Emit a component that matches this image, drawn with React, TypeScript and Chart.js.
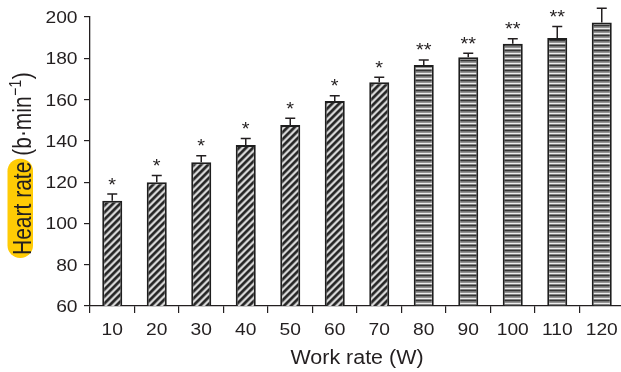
import React, { useEffect, useRef } from 'react';
import { Chart, registerables } from 'chart.js';

Chart.register(...registerables);

// ---- data ----
const workRates = ['10', '20', '30', '40', '50', '60', '70', '80', '90', '100', '110', '120'];
const heartRate = [111, 120, 129.6, 138, 147.7, 159.3, 168.4, 176.8, 180.5, 187.1, 189.8, 197.3];
const heartRateSE = [3.2, 3.2, 3.2, 3.2, 3.2, 2.6, 2.4, 2.4, 2.0, 2.4, 5.6, 6.9];
const significance = ['*', '*', '*', '*', '*', '*', '*', '**', '**', '**', '**', ''];
const barPatterns = ['diagonal', 'diagonal', 'diagonal', 'diagonal', 'diagonal', 'diagonal', 'diagonal',
  'horizontal', 'horizontal', 'horizontal', 'horizontal', 'horizontal'];
const yMin = 60;
const yMax = 200;
const yStep = 20;
const xTitle = 'Work rate (W)';
const yTitleMain = 'Heart rate';
const yTitleUnit = '(b·min';
const yTitleSup = '−1';
const yTitleClose = ')';

// ---- styles ----
const INK = '#231f20';
const FONT = "'Liberation Sans', Arial, Helvetica, sans-serif";
const HIGHLIGHT = '#ffcb05';

function stretchedText(
  ctx: CanvasRenderingContext2D, text: string, x: number, y: number,
  align: CanvasTextAlign, size: number, sx: number,
) {
  ctx.save();
  ctx.translate(x, y);
  ctx.scale(sx, 1);
  ctx.font = `${size}px ${FONT}`;
  ctx.textAlign = align;
  ctx.textBaseline = 'alphabetic';
  ctx.fillStyle = INK;
  ctx.fillText(text, 0, 0);
  ctx.restore();
}

function makePattern(kind: string): CanvasPattern | string {
  const c = document.createElement('canvas');
  const ctx = c.getContext('2d');
  if (!ctx) return '#888';
  if (kind === 'diagonal') {
    const shades = [38, 38, 62, 150, 214, 214, 120];
    const n = shades.length;
    c.width = n; c.height = n;
    const img = ctx.createImageData(n, n);
    for (let y = 0; y < n; y++) {
      for (let x = 0; x < n; x++) {
        const v = shades[(x + y) % n];
        const i = (y * n + x) * 4;
        img.data[i] = v; img.data[i + 1] = v; img.data[i + 2] = v; img.data[i + 3] = 255;
      }
    }
    ctx.putImageData(img, 0, 0);
  } else {
    const rows = [52, 118, 148, 236, 128];
    c.width = 4; c.height = rows.length;
    const img = ctx.createImageData(4, rows.length);
    for (let y = 0; y < rows.length; y++) {
      for (let x = 0; x < 4; x++) {
        const i = (y * 4 + x) * 4;
        img.data[i] = rows[y]; img.data[i + 1] = rows[y]; img.data[i + 2] = rows[y]; img.data[i + 3] = 255;
      }
    }
    ctx.putImageData(img, 0, 0);
  }
  const p = ctx.createPattern(c, 'repeat');
  return p || '#888';
}

const decorPlugin = {
  id: 'decor',
  afterDatasetsDraw(chart: any) {
    const ctx: CanvasRenderingContext2D = chart.ctx;
    const ys = chart.scales.y;
    const meta = chart.getDatasetMeta(0);
    ctx.save();
    ctx.strokeStyle = INK;
    ctx.lineWidth = 1.5;
    meta.data.forEach((el: any, i: number) => {
      const x = el.x;
      const top = el.y;
      const errTop = ys.getPixelForValue(heartRate[i] + heartRateSE[i]);
      ctx.beginPath();
      ctx.moveTo(x, top);
      ctx.lineTo(x, errTop);
      ctx.moveTo(x - 5, errTop);
      ctx.lineTo(x + 5, errTop);
      ctx.stroke();
      if (significance[i]) {
        stretchedText(ctx, significance[i], x, errTop - 3.5, 'center', 19, 1.05);
      }
    });
    ctx.restore();
  },
  afterDraw(chart: any) {
    const ctx: CanvasRenderingContext2D = chart.ctx;
    const xs = chart.scales.x;
    const ys = chart.scales.y;
    const area = chart.chartArea;
    // y tick labels
    ys.ticks.forEach((t: any) => {
      const y = ys.getPixelForValue(t.value);
      stretchedText(ctx, String(t.value), 77.5, y + 6, 'right', 16, 1.2);
    });
    // x tick labels
    workRates.forEach((lab, i) => {
      const x = xs.getPixelForValue(i);
      stretchedText(ctx, lab, x, 335, 'center', 16, 1.2);
    });
    // x title
    stretchedText(ctx, xTitle, (area.left + area.right) / 2, 364, 'center', 19.5, 1.1);

    // y title (rotated, stretched horizontally)
    const size = 21;
    const bx = 30.5;
    const by = 255;
    ctx.save();
    ctx.font = `${size}px ${FONT}`;
    const wMain = ctx.measureText(yTitleMain).width;
    const wSpace = ctx.measureText(' ').width;
    // highlight pill
    ctx.fillStyle = HIGHLIGHT;
    const hx = 7.5, hw = 25.5;
    const hy0 = by - wMain - 3, hy1 = by + 3;
    ctx.beginPath();
    (ctx as any).roundRect(hx, hy0, hw, hy1 - hy0, 12.5);
    ctx.fill();

    ctx.translate(bx, by);
    ctx.scale(1.2, 1);
    ctx.rotate(-Math.PI / 2);
    ctx.fillStyle = INK;
    ctx.textAlign = 'left';
    ctx.textBaseline = 'alphabetic';
    let u = 0;
    ctx.fillText(yTitleMain, u, 0);
    u += wMain + wSpace;
    ctx.fillText(yTitleUnit, u, 0);
    u += ctx.measureText(yTitleUnit).width + 0.5;
    ctx.font = `${Math.round(size * 0.66)}px ${FONT}`;
    ctx.fillText(yTitleSup, u, -8);
    u += ctx.measureText(yTitleSup).width + 0.5;
    ctx.font = `${size}px ${FONT}`;
    ctx.fillText(yTitleClose, u, 0);
    ctx.restore();
  },
};

export default function App() {
  const ref = useRef<HTMLCanvasElement>(null);
  useEffect(() => {
    const canvas = ref.current;
    if (!canvas) return;
    const chart = new Chart(canvas, {
      type: 'bar',
      data: {
        labels: workRates,
        datasets: [{
          data: heartRate,
          backgroundColor: barPatterns.map(makePattern) as any,
          borderColor: '#1e1e1e',
          borderWidth: 2,
          borderSkipped: false,
          barPercentage: 0.45,
          categoryPercentage: 1,
        }],
      },
      options: {
        responsive: false,
        animation: false,
        events: [],
        devicePixelRatio: 1,
        layout: { padding: { top: 17, left: 0, right: 0, bottom: 0 } },
        plugins: { legend: { display: false }, tooltip: { enabled: false }, title: { display: false } },
        scales: {
          x: {
            offset: true,
            grid: { offset: true, drawOnChartArea: false, drawTicks: true, tickLength: 7, color: INK, lineWidth: 1.2 },
            border: { display: true, color: INK, width: 1.3 },
            ticks: { display: false },
            afterFit: (s: any) => { s.height = 66; },
          },
          y: {
            min: yMin,
            max: yMax,
            grid: { drawOnChartArea: false, drawTicks: true, tickLength: 6, color: INK, lineWidth: 1.2 },
            border: { display: true, color: INK, width: 1.3 },
            ticks: { display: false, stepSize: yStep },
            afterFit: (s: any) => { s.width = 90; },
          },
        },
      },
      plugins: [decorPlugin],
    });
    return () => chart.destroy();
  }, []);
  return (
    <div style={{ position: 'fixed', left: 0, top: 0, width: 621, height: 372, overflow: 'hidden', background: '#fff' }}>
      <canvas ref={ref} width={624} height={372} style={{ display: 'block', width: 624, height: 372 }} />
    </div>
  );
}
